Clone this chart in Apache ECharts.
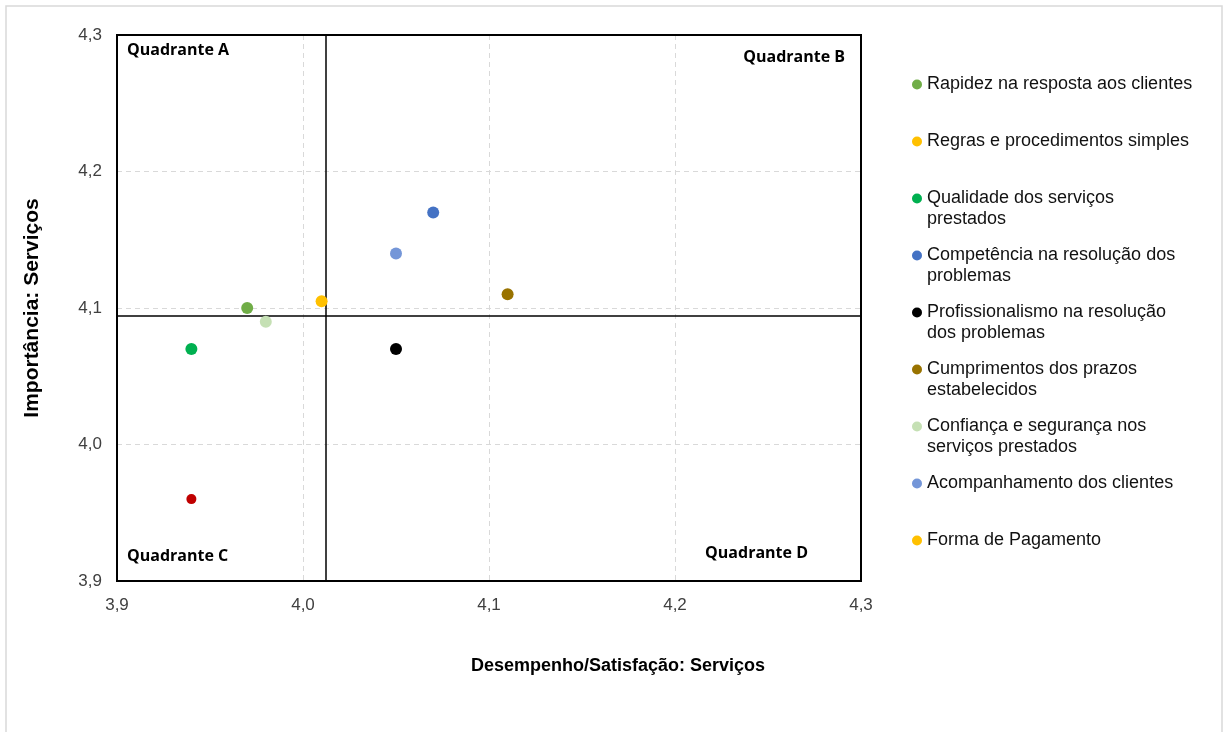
<!DOCTYPE html>
<html><head><meta charset="utf-8">
<script src="https://cdn.jsdelivr.net/npm/echarts@6/dist/echarts.min.js"></script>
<style>html,body{margin:0;padding:0;background:#fff}#c{width:1230px;height:732px}</style>
</head><body><div id="c"></div>
<script>
const names = [
  'Rapidez na resposta aos clientes',
  'Regras e procedimentos simples',
  'Qualidade dos serviços prestados',
  'Competência na resolução dos problemas',
  'Profissionalismo na resolução dos problemas',
  'Cumprimentos dos prazos estabelecidos',
  'Confiança e segurança nos serviços prestados',
  'Acompanhamento dos clientes',
  'Forma de Pagamento'
];
const legendLabels = [
  'Rapidez na resposta aos clientes',
  'Regras e procedimentos simples',
  'Qualidade dos serviços\nprestados',
  'Competência na resolução dos\nproblemas',
  'Profissionalismo na resolução\ndos problemas',
  'Cumprimentos dos prazos\nestabelecidos',
  'Confiança e segurança nos\nserviços prestados',
  'Acompanhamento dos clientes',
  'Forma de Pagamento'
];
const desempenho = [3.97, 4.01, 3.94, 4.07, 4.05, 4.11, 3.98, 4.05, 3.94];
const importancia = [4.10, 4.105, 4.07, 4.17, 4.07, 4.11, 4.09, 4.14, 3.96];
const pointColors = ['#70AD47', '#FFC000', '#00B050', '#4472C4', '#000000', '#997300', '#C5E0B4', '#7496D8', '#C00000'];
const legendColors = ['#70AD47', '#FFC000', '#00B050', '#4472C4', '#000000', '#997300', '#C5E0B4', '#7496D8', '#FFC000'];
const pointSizes = [12, 12, 12, 12, 12, 12, 12, 12, 10];
const mediaX = 4.012;
const mediaY = 4.094;
const axisMin = 3.9, axisMax = 4.3, axisStep = 0.1;
const quadrantLabels = ['Quadrante A', 'Quadrante B', 'Quadrante C', 'Quadrante D'];
const xTitle = 'Desempenho/Satisfação: Serviços';
const yTitle = 'Importância: Serviços';

const chart = echarts.init(document.getElementById('c'), null, {renderer: 'canvas'});
const fmt = v => v.toFixed(1).replace('.', ',');
const LH = 21;
const isTwo = s => s.indexOf('\n') >= 0;

const series = names.map((n, i) => ({
  name: n,
  type: 'scatter',
  data: [[desempenho[i], importancia[i]]],
  symbolSize: pointSizes[i],
  itemStyle: {color: pointColors[i], opacity: 1},
  z: 5
}));
series.push({
  name: 'medias', type: 'scatter', data: [], silent: true, z: 3,
  markLine: {
    silent: true, symbol: ['none', 'none'], label: {show: false}, precision: 4,
    lineStyle: {color: '#000', width: 1.5, type: 'solid'},
    data: [{xAxis: mediaX}, {yAxis: mediaY}]
  }
});

const splitCfg = {show: true, showMinLine: false, showMaxLine: false, lineStyle: {color: '#d9d9d9', type: [5, 4], width: 1}};

chart.setOption({
  animation: false,
  backgroundColor: '#fff',
  grid: {left: 117, right: 369, top: 35, bottom: 151, show: true, borderColor: '#000', borderWidth: 2, containLabel: false, z: 4},
  xAxis: {
    type: 'value', min: axisMin, max: axisMax, interval: axisStep,
    axisLine: {show: false}, axisTick: {show: false},
    axisLabel: {formatter: fmt, fontFamily: 'Liberation Sans', fontSize: 17, color: '#404040', margin: 16},
    splitLine: splitCfg
  },
  yAxis: {
    type: 'value', min: axisMin, max: axisMax, interval: axisStep,
    name: yTitle, nameLocation: 'middle', nameGap: 74, nameRotate: 90,
    nameTextStyle: {fontFamily: 'Liberation Sans', fontWeight: 'bold', fontSize: 21, color: '#000'},
    axisLine: {show: false}, axisTick: {show: false},
    axisLabel: {formatter: fmt, fontFamily: 'Liberation Sans', fontSize: 17, color: '#404040', margin: 15},
    splitLine: splitCfg
  },
  legend: {
    orient: 'vertical', left: 907, top: 48, itemGap: -6,
    icon: 'circle', itemWidth: 10, itemHeight: 10,
    selectedMode: false,
    textStyle: {fontFamily: 'Liberation Sans', fontSize: 18, color: '#111', lineHeight: LH},
    formatter: n => {
      const s = legendLabels[names.indexOf(n)];
      return isTwo(s) ? '\n' + s : s;
    },
    data: names.map((n, i) => ({
      name: n,
      itemStyle: {color: legendColors[i]},
      textStyle: {padding: isTwo(legendLabels[i]) ? [0, 0, 0, 0] : [LH, 0, LH, 0]}
    }))
  },
  series: series
});

function px(x, y) { return chart.convertToPixel({gridIndex: 0}, [x, y]); }
const tl = px(axisMin, axisMax), br = px(axisMax, axisMin);
const qStyle = {fontFamily: 'Open Sans', fontWeight: 'bold', fontSize: 16, fill: '#000'};
chart.setOption({
  graphic: [
    {type: 'rect', shape: {x: 6, y: 6, width: 1216, height: 740}, style: {fill: 'none', stroke: '#d9d9d9', lineWidth: 1.5}, silent: true},
    {type: 'text', x: tl[0] + 10, y: tl[1] + 15, style: Object.assign({text: quadrantLabels[0], textAlign: 'left', textVerticalAlign: 'middle'}, qStyle)},
    {type: 'text', x: br[0] - 16, y: tl[1] + 22, style: Object.assign({text: quadrantLabels[1], textAlign: 'right', textVerticalAlign: 'middle'}, qStyle)},
    {type: 'text', x: tl[0] + 10, y: br[1] - 25, style: Object.assign({text: quadrantLabels[2], textAlign: 'left', textVerticalAlign: 'middle'}, qStyle)},
    {type: 'text', x: br[0] - 53, y: br[1] - 28, style: Object.assign({text: quadrantLabels[3], textAlign: 'right', textVerticalAlign: 'middle'}, qStyle)},
    {type: 'text', x: 618, y: 666, style: {text: xTitle, textAlign: 'center', textVerticalAlign: 'middle', fontFamily: 'Liberation Sans', fontWeight: 'bold', fontSize: 18, fill: '#000'}}
  ]
});
</script>
</body></html>
